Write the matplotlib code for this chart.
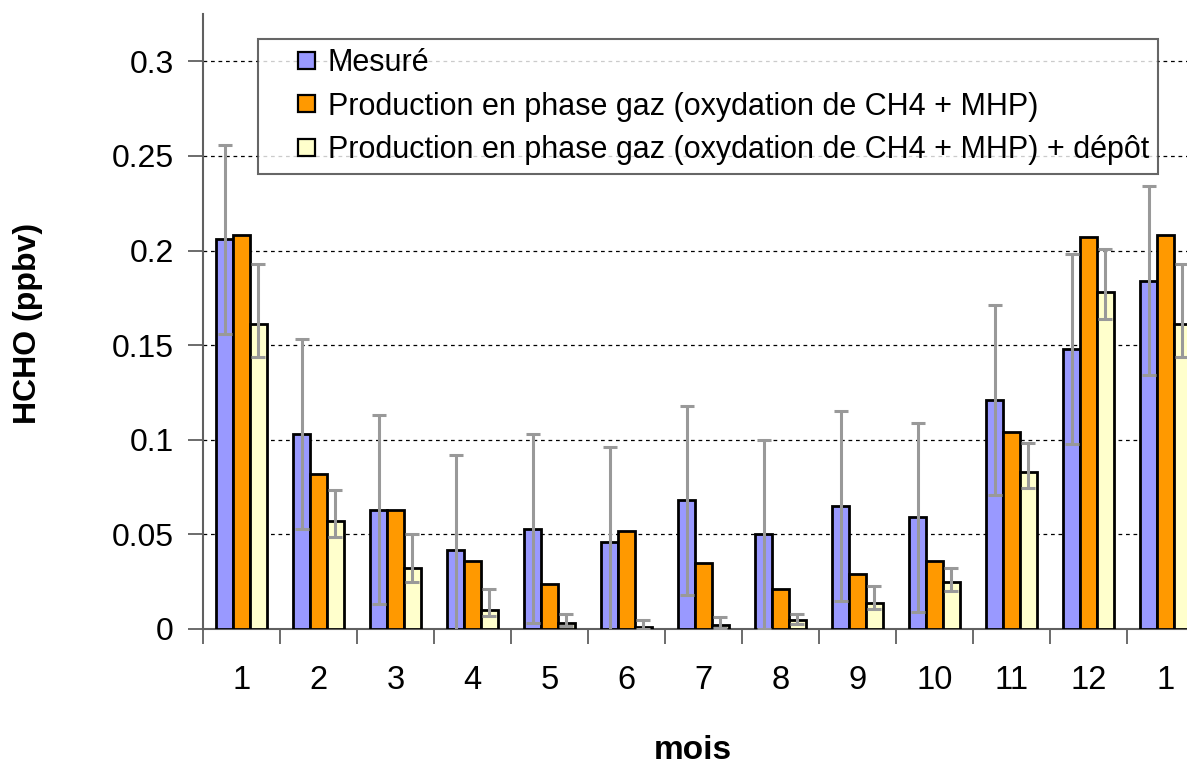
import matplotlib
matplotlib.use("Agg")
import matplotlib.pyplot as plt
from matplotlib.patches import Rectangle
from matplotlib.legend_handler import HandlerPatch
import numpy as np

plt.rcParams['font.family'] = ['Liberation Sans', 'DejaVu Sans']

months = ["1", "2", "3", "4", "5", "6", "7", "8", "9", "10", "11", "12", "1"]
series_names = [
    "Mesuré",
    "Production en phase gaz (oxydation de CH4 + MHP)",
    "Production en phase gaz (oxydation de CH4 + MHP) + dépôt",
]

measured = [0.206, 0.103, 0.063, 0.042, 0.053, 0.046, 0.068, 0.050, 0.065, 0.059, 0.121, 0.148, 0.184]
measured_err = [0.050] * 13

gas_phase = [0.208, 0.082, 0.063, 0.036, 0.024, 0.052, 0.035, 0.021, 0.029, 0.036, 0.104, 0.207, 0.208]

gas_phase_dep = [0.161, 0.057, 0.032, 0.010, 0.0034, 0.0012, 0.0022, 0.0046, 0.014, 0.025, 0.083, 0.178, 0.161]
gas_phase_dep_low = [0.1435, 0.0485, 0.0248, 0.0069, 0.0016, 0.0002, 0.0004, 0.0026, 0.0104, 0.0201, 0.0743, 0.1636, 0.1435]
gas_phase_dep_high = [0.193, 0.0736, 0.0504, 0.0213, 0.0079, 0.0050, 0.0065, 0.0079, 0.0229, 0.0324, 0.0984, 0.2009, 0.193]

colors = ["#9999FF", "#FF9900", "#FFFFCC"]
err_color = "#999999"

W, H = 1187, 764
fig = plt.figure(figsize=(W / 100, H / 100), dpi=100)
ax = fig.add_axes([203 / W, (H - 629) / H, 1001 / W, (629 - 14) / H])

x = np.arange(len(months))
bw = 0.215
step = 0.22
err_kw = dict(ecolor=err_color, elinewidth=2.2, capsize=5, capthick=2.2)

ax.bar(x - step, measured, bw, color=colors[0], edgecolor="black", linewidth=2,
       yerr=measured_err, error_kw=err_kw, zorder=3)
ax.bar(x, gas_phase, bw, color=colors[1], edgecolor="black", linewidth=2, zorder=3)
dep = np.array(gas_phase_dep)
dep_err = [dep - np.array(gas_phase_dep_low), np.array(gas_phase_dep_high) - dep]
ax.bar(x + step, dep, bw, color=colors[2], edgecolor="black", linewidth=2,
       yerr=dep_err, error_kw=err_kw, zorder=3)

ax.set_xlim(-0.5, len(months) - 0.5)
ax.set_ylim(0, 0.325)
ax.set_yticks([0, 0.05, 0.1, 0.15, 0.2, 0.25, 0.3])
ax.set_yticklabels(["0", "0.05", "0.1", "0.15", "0.2", "0.25", "0.3"])
ax.yaxis.grid(True, linestyle=(0, (3, 3)), color="black", linewidth=0.9, zorder=0)
ax.set_axisbelow(True)

# boundaries between months carry the tick marks, centres carry the labels
ax.set_xticks(np.arange(-0.5, len(months), 1.0))
ax.set_xticklabels([])
ax.set_xticks(x, minor=True)
ax.set_xticklabels(months, minor=True)
ax.tick_params(axis="x", which="major", length=11, width=1.3, color="#606060", direction="out")
ax.tick_params(axis="x", which="minor", length=0, pad=26, labelsize=23.5)
ax.tick_params(axis="y", length=11, width=1.3, color="#606060", direction="out", pad=10, labelsize=23)

for s in ["top", "right"]:
    ax.spines[s].set_visible(False)
for s in ["left", "bottom"]:
    ax.spines[s].set_color("#606060")
    ax.spines[s].set_linewidth(1.5)

ax.set_ylabel("HCHO (ppbv)", fontsize=23, fontweight="bold")
ax.yaxis.set_label_coords((43 - 203) / 1001, (629 - 323) / 615)
ax.set_xlabel("mois", fontsize=24, fontweight="bold")
ax.xaxis.set_label_coords(0.5 + (693 - 703.5) / 1001, (629 - 735) / 615)


def square_handle(legend, orig_handle, xdescent, ydescent, width, height, fontsize):
    side = 0.555 * fontsize
    return Rectangle((width - side - xdescent, -ydescent + (height - side) / 2), side, side)


handles = [Rectangle((0, 0), 1, 1, facecolor=c, edgecolor="black", linewidth=1.6) for c in colors]
leg = ax.legend(handles, series_names, loc="upper left",
                bbox_to_anchor=((258 - 203) / 1001, (629 - 39) / 615),
                borderaxespad=0, fontsize=22, frameon=True, fancybox=False,
                handlelength=1.57, handleheight=0.7, handletextpad=0.42,
                labelspacing=0.44, borderpad=0.3,
                handler_map={Rectangle: HandlerPatch(patch_func=square_handle)})
leg.get_frame().set_edgecolor("#404040")
leg.get_frame().set_linewidth(1.5)

fig.savefig("out.png", dpi=100)
